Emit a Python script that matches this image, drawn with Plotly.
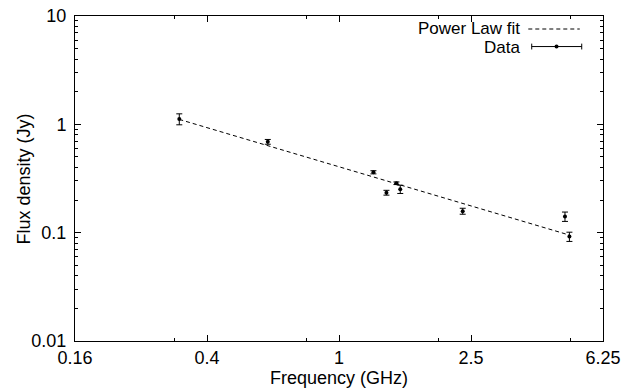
import plotly.graph_objects as go

# Data
freq_ghz = [0.33, 0.61, 1.27, 1.39, 1.49, 1.53, 2.36, 4.80, 4.95]
flux_jy = [1.12, 0.69, 0.361, 0.234, 0.286, 0.252, 0.158, 0.141, 0.092]
flux_err = [0.13, 0.035, 0.012, 0.012, 0.008, 0.022, 0.010, 0.014, 0.009]

fit_freq = [0.33, 4.95]
fit_flux = [1.11, 0.095]

x_tick_vals = [0.16, 0.4, 1, 2.5, 6.25]
x_tick_text = ["0.16", "0.4", "1", "2.5", "6.25"]
x_minor_vals = [0.32, 0.8, 2.0, 5.0]
y_tick_vals = [0.01, 0.1, 1, 10]
y_tick_text = ["0.01", "0.1", "1", "10"]
y_minor_vals = [m * d for d in [0.01, 0.1, 1] for m in range(2, 10)]

FONT = "Liberation Sans, Arial, Helvetica, sans-serif"
FS = 18

fig = go.Figure()
fig.add_trace(go.Scatter(
    x=fit_freq, y=fit_flux, mode="lines",
    line=dict(color="black", width=1, dash="4px,3px"),
    showlegend=False, hoverinfo="skip"))
fig.add_trace(go.Scatter(
    x=freq_ghz, y=flux_jy, mode="markers",
    marker=dict(color="black", size=4),
    error_y=dict(type="data", array=flux_err, color="black", thickness=1, width=3),
    showlegend=False))

axis_common = dict(
    type="log", showgrid=False, zeroline=False, showline=True,
    linecolor="black", linewidth=1, mirror="allticks",
    ticks="inside", ticklen=6, tickcolor="black", tickwidth=1,
    tickfont=dict(family=FONT, size=FS, color="black"),
    tickmode="array", automargin=False,
)

fig.update_xaxes(
    **axis_common,
    range=[-0.79588, 0.79588],
    tickvals=x_tick_vals, ticktext=x_tick_text,
    minor=dict(tickmode="array", tickvals=x_minor_vals, ticks="inside",
               ticklen=3, tickcolor="black", tickwidth=1),
    title=dict(text="Frequency (GHz)", font=dict(family=FONT, size=FS, color="black"), standoff=2),
)
fig.update_yaxes(
    **axis_common,
    range=[-2, 1],
    tickvals=y_tick_vals, ticktext=y_tick_text,
    ticklabelstandoff=4,
    minor=dict(tickmode="array", tickvals=y_minor_vals, ticks="inside",
               ticklen=3, tickcolor="black", tickwidth=1),
)

# Y-axis title placed like gnuplot's
fig.add_annotation(x=-0.0966, y=0.5, xref="paper", yref="paper", text="Flux density (Jy)",
                   textangle=-90, showarrow=False, xanchor="center", yanchor="middle",
                   font=dict(family=FONT, size=FS, color="black"))

# Gnuplot-style key (text on the left, sample on the right)
key_font = dict(family=FONT, size=17, color="black")
fig.add_annotation(x=0.846, y=0.963, xref="paper", yref="paper", text="Power Law fit",
                   showarrow=False, xanchor="right", yanchor="middle", font=key_font)
fig.add_annotation(x=0.846, y=0.9046, xref="paper", yref="paper", text="Data",
                   showarrow=False, xanchor="right", yanchor="middle", font=key_font)
fig.add_shape(type="line", xref="paper", yref="paper", x0=0.8585, x1=0.956, y0=0.960, y1=0.960,
              line=dict(color="black", width=1, dash="4px,3px"))
fig.add_shape(type="line", xref="paper", yref="paper", x0=0.865, x1=0.9597, y0=0.906, y1=0.906,
              line=dict(color="black", width=1))
for xe in (0.865, 0.9597):
    fig.add_shape(type="line", xref="paper", yref="paper", x0=xe, x1=xe, y0=0.897, y1=0.915,
                  line=dict(color="black", width=1))
fig.add_shape(type="circle", xref="paper", yref="paper",
              x0=0.912 - 0.0038, x1=0.912 + 0.0038, y0=0.906 - 0.006, y1=0.906 + 0.006,
              fillcolor="black", line=dict(color="black", width=0))

fig.update_layout(
    width=638, height=390,
    margin=dict(l=75, r=35, t=16, b=49, autoexpand=False),
    paper_bgcolor="white", plot_bgcolor="white",
    font=dict(family=FONT, color="black"),
    showlegend=False,
)

fig.write_html("out.html")
